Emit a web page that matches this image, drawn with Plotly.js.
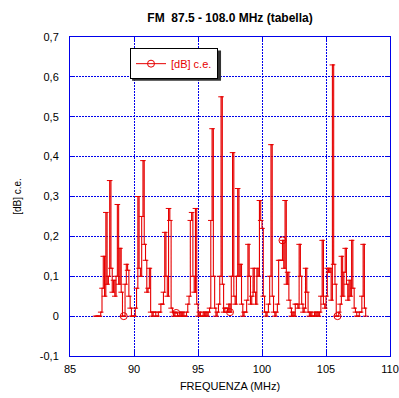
<!DOCTYPE html>
<html>
<head>
<meta charset="utf-8">
<script src="https://cdn.plot.ly/plotly-3.0.1.min.js"></script>
<style>html,body{margin:0;padding:0;background:#fff;}#chart{width:399px;height:398px;}</style>
</head>
<body>
<div id="chart"></div>
<script>
// Frequency grid start / step (MHz) and measured values [dB] c.e., one row per MHz
const freqStart = 87.0;
const freqStep = 0.1;
const values = [
  // 87.0 - 87.9
  0, 0, 0, 0, 0.01, 0.07, 0.15, 0.05, 0.26, 0.08,
  // 88.0 - 88.9
  0.10, 0.34, 0.12, 0.06, 0.09, 0.05, 0.10, 0.28, 0.08, 0.17,
  // 89.0 - 89.9
  0.06, 0.0, 0.0, 0.08, 0.13, 0.115, 0.05, 0.02, 0.0, 0.0,
  // 90.0 - 90.9
  0.0, 0.02, 0.07, 0.30, 0.12, 0.10, 0.25, 0.39, 0.18, 0.14,
  // 91.0 - 91.9
  0.06, 0.07, 0.12, 0.01, 0.0, 0.01, 0.01, 0.0, 0.0, 0.01,
  // 92.0 - 92.9
  0.01, 0.03, 0.03, 0.06, 0.21, 0.10, 0.05, 0.27, 0.24, 0.02,
  // 93.0 - 93.9
  0.01, 0.0, 0.01, 0.008, 0.0, 0.0, 0.01, 0.0, 0.01, 0.0,
  // 94.0 - 94.9
  0.0, 0.01, 0.03, 0.05, 0.24, 0.26, 0.10, 0.06, 0.27, 0.03,
  // 95.0 - 95.9
  0.0, 0.01, 0.0, 0.0, 0.01, 0.0, 0.01, 0.0, 0.01, 0.02,
  // 96.0 - 96.9
  0.24, 0.47, 0.10, 0.02, 0.0, 0.01, 0.03, 0.10, 0.55, 0.08,
  // 97.0 - 97.9
  0.01, 0.02, 0.02, 0.01, 0.03, 0.01, 0.10, 0.41, 0.05, 0.03,
  // 98.0 - 98.9
  0.10, 0.32, 0.10, 0.13, 0.03, 0.0, 0.01, 0.01, 0.04, 0.18,
  // 99.0 - 99.9
  0.10, 0.03, 0.05, 0.12, 0.06, 0.03, 0.12, 0.10, 0.29, 0.24,
  // 100.0 - 100.9
  0.22, 0.05, 0.01, 0.0, 0.01, 0.03, 0.10, 0.43, 0.05, 0.01,
  // 101.0 - 101.9
  0.0, 0.01, 0.03, 0.14, 0.14, 0.14, 0.19, 0.12, 0.29, 0.08,
  // 102.0 - 102.9
  0.11, 0.04, 0.02, 0.0, 0.01, 0.0, 0.03, 0.03, 0.02, 0.18,
  // 103.0 - 103.9
  0.10, 0.03, 0.01, 0.02, 0.12, 0.06, 0.01, 0.0, 0.01, 0.0,
  // 104.0 - 104.9
  0.0, 0.01, 0.0, 0.01, 0.0, 0.01, 0.05, 0.19, 0.03, 0.02,
  // 105.0 - 105.9
  0.05, 0.12, 0.11, 0.12, 0.04, 0.63, 0.13, 0.08, 0.0, 0.0,
  // 106.0 - 106.9
  0.01, 0.03, 0.15, 0.05, 0.11, 0.17, 0.08, 0.04, 0.09, 0.05,
  // 107.0 - 107.9
  0.19, 0.07, 0.02, 0.01, 0.0, 0.0, 0.01, 0.01, 0.05, 0.18,
  // 108.0 - 108.1
  0.02, 0.0
];
// frequencies where the circle markers are drawn
const circleFreqs = [89.2, 93.3, 97.5, 101.6, 105.9];

const seriesName = '[dB] c.e.';
const xTickVals = [85, 90, 95, 100, 105, 110];
const yTickVals = [-0.1, 0, 0.1, 0.2, 0.3, 0.4, 0.5, 0.6, 0.7];
const yTickText = ['-0,1', '0', '0,1', '0,2', '0,3', '0,4', '0,5', '0,6', '0,7'];

const freqs = values.map((v, i) => +(freqStart + i * freqStep).toFixed(2));
const circleIdx = circleFreqs.map(f => Math.round((f - freqStart) / freqStep));
const cx = circleIdx.map(i => freqs[i]);
const cy = circleIdx.map(i => values[i]);

const red = 'rgb(230,0,0)';
const blue = 'rgb(0,0,235)';
const font = 'Liberation Sans, Arial, sans-serif';

const traces = [
  {
    x: freqs, y: values, type: 'scatter', mode: 'lines+markers',
    line: {color: red, width: 1.1, shape: 'hv'},
    marker: {symbol: 'line-ew', size: 4, color: red, line: {color: red, width: 1}},
    showlegend: false, hoverinfo: 'skip'
  },
  {
    x: cx, y: cy, type: 'scatter', mode: 'markers',
    marker: {symbol: 'circle-open', size: 7, color: red, line: {color: red, width: 1}},
    showlegend: false
  },
  {
    x: [null], y: [null], type: 'scatter', mode: 'lines+markers', name: seriesName,
    line: {color: red, width: 1},
    marker: {symbol: 'circle-open', size: 7, color: red, line: {color: red, width: 1}},
    showlegend: true
  }
];

const axisCommon = {
  showline: true, linecolor: blue, linewidth: 1, mirror: 'ticks',
  ticks: 'inside', ticklen: 5, tickcolor: blue, tickwidth: 1,
  showgrid: true, gridcolor: blue, griddash: '2px,1px', gridwidth: 1,
  zeroline: false,
  tickfont: {family: font, size: 11, color: '#000'}
};

const layout = {
  width: 399, height: 398,
  margin: {l: 70, r: 9, t: 37, b: 42},
  paper_bgcolor: '#fff', plot_bgcolor: '#fff',
  separators: ',.',
  title: {
    text: '<b>FM\u00a0 87.5 - 108.0 MHz (tabella)</b>',
    font: {family: font, size: 12, color: '#000'},
    x: 0.5, xref: 'paper', y: 1 - 18 / 398, yanchor: 'middle'
  },
  xaxis: Object.assign({}, axisCommon, {
    range: [85, 110], tickmode: 'array', tickvals: xTickVals,
    ticklabelstandoff: 3,
    title: {text: 'FREQUENZA (MHz)', font: {family: font, size: 11, color: '#000'}, standoff: 8}
  }),
  yaxis: Object.assign({}, axisCommon, {
    range: [-0.1, 0.7], tickmode: 'array', tickvals: yTickVals, ticktext: yTickText,
    ticklabelstandoff: 8,
    title: {text: '[dB] c.e.', font: {family: font, size: 10, color: '#000'}, standoff: 16}
  }),
  legend: {
    x: 0.1875, y: 0.965, xanchor: 'left', yanchor: 'top',
    bgcolor: '#fff', bordercolor: '#000', borderwidth: 1,
    font: {family: font, size: 11, color: red},
    tracegroupgap: 0
  },
  shapes: [{
    type: 'rect', xref: 'paper', yref: 'paper', layer: 'above',
    x0: 0.194, x1: 0.472, y0: 0.863, y1: 0.958,
    fillcolor: '#333', line: {width: 0}
  }],
  showlegend: true
};

Plotly.newPlot('chart', traces, layout, {staticPlot: true, displayModeBar: false});
</script>
</body>
</html>
